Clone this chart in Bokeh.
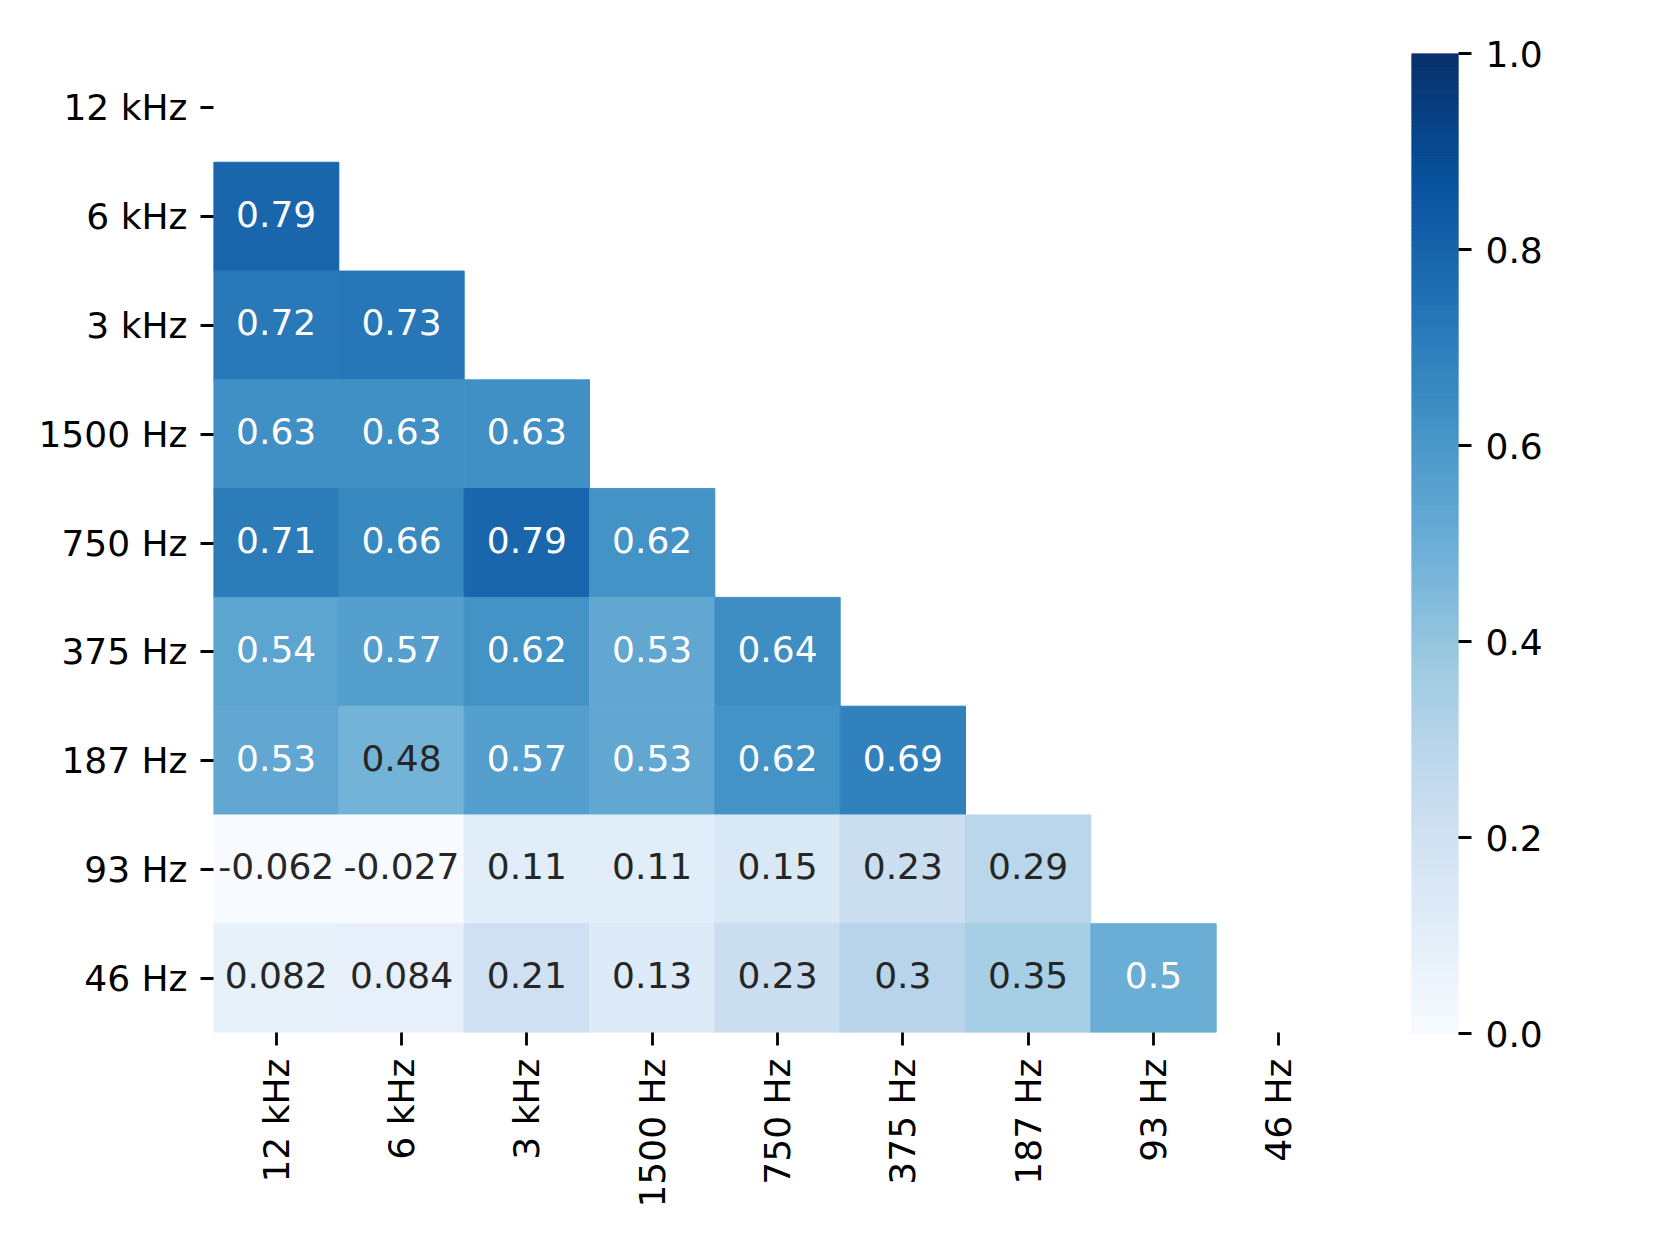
import math
import numpy as np
from bokeh.plotting import figure
from bokeh.layouts import row
from bokeh.models import FactorRange, Range1d, ColumnDataSource, FixedTicker, PrintfTickFormatter
from bokeh.core.properties import value
from bokeh.embed import file_html
from bokeh.resources import INLINE

# ---- data ----
bands = ["12 kHz", "6 kHz", "3 kHz", "1500 Hz", "750 Hz", "375 Hz", "187 Hz", "93 Hz", "46 Hz"]
row_6k = [0.79]
row_3k = [0.72, 0.73]
row_1500 = [0.63, 0.63, 0.63]
row_750 = [0.71, 0.66, 0.79, 0.62]
row_375 = [0.54, 0.57, 0.62, 0.53, 0.64]
row_187 = [0.53, 0.48, 0.57, 0.53, 0.62, 0.69]
row_93 = [-0.062, -0.027, 0.11, 0.11, 0.15, 0.23, 0.29]
row_46 = [0.082, 0.084, 0.21, 0.13, 0.23, 0.3, 0.35, 0.5]
lower_rows = [[], row_6k, row_3k, row_1500, row_750, row_375, row_187, row_93, row_46]
cbar_ticks = [0.0, 0.2, 0.4, 0.6, 0.8, 1.0]
vmin, vmax = 0.0, 1.0

# ColorBrewer Blues (light -> dark), matplotlib 'Blues' is a linear ramp through these
blues9 = ["#f7fbff", "#deebf7", "#c6dbef", "#9ecae1", "#6baed6", "#4292c6", "#2171b5", "#08519c", "#08306b"]

def hex2rgb(h):
    return np.array([int(h[i:i + 2], 16) for i in (1, 3, 5)], dtype=float)

anchors = np.array([hex2rgb(h) for h in blues9])
pos = np.linspace(0, 1, len(blues9))
t = np.linspace(0, 1, 256)
ramp = np.stack([np.interp(t, pos, anchors[:, k]) for k in range(3)], axis=1)
palette = ["#%02x%02x%02x" % tuple(int(round(c)) for c in rgb) for rgb in ramp]

def cmap(v):
    f = (v - vmin) / (vmax - vmin)
    i = int(np.clip(math.floor(f * 256), 0, 255))
    return i

def luminance(rgb):
    c = np.asarray(rgb) / 255.0
    c = np.where(c <= 0.03928, c / 12.92, ((c + 0.055) / 1.055) ** 2.4)
    return float(c.dot([0.2126, 0.7152, 0.0722]))

xs, ys, vals, fills, labels, tcolors = [], [], [], [], [], []
for i, r in enumerate(lower_rows):
    for j, v in enumerate(r):
        idx = cmap(v)
        xs.append(bands[j])
        ys.append(bands[i])
        vals.append(v)
        fills.append(palette[idx])
        labels.append("{:.2g}".format(v))
        tcolors.append("#262626" if luminance(ramp[idx]) > 0.408 else "#ffffff")

src = ColumnDataSource(dict(x=xs, y=ys, v=vals, fill=fills, label=labels, tc=tcolors))

FONT = "DejaVu Sans"
FS = "36px"

p = figure(x_range=FactorRange(factors=bands), y_range=FactorRange(factors=bands[::-1]),
           frame_width=1128, frame_height=979,
           min_border_left=213, min_border_top=53, min_border_bottom=188, min_border_right=8,
           output_backend="svg", toolbar_location=None, tools="")
p.rect(x="x", y="y", width=1, height=1, source=src, fill_color="fill", line_color="fill", line_width=1)
p.text(x="x", y="y", text="label", source=src, text_color="tc", text_align="center",
       text_baseline="middle", y_offset=-3, text_font=value(FONT), text_font_size=FS)
p.grid.visible = False
p.outline_line_color = None
for ax in (p.xaxis[0], p.yaxis[0]):
    ax.axis_line_color = None
    ax.major_tick_in = 0
    ax.major_tick_out = 13
    ax.major_tick_line_width = 2.8
    ax.major_tick_line_color = "black"
    ax.minor_tick_line_color = None
    ax.major_label_standoff = 13
    ax.major_label_text_font = FONT
    ax.major_label_text_font_size = FS
    ax.major_label_text_color = "black"
p.xaxis.major_label_orientation = math.pi / 2

# colour bar as its own panel
cb_lo = [vmin + (vmax - vmin) * k / 256 for k in range(256)]
cb_hi = [vmin + (vmax - vmin) * (k + 1) / 256 for k in range(256)]
cb = figure(x_range=Range1d(0, 1), y_range=Range1d(vmin, vmax),
            frame_width=47, frame_height=980,
            min_border_left=62, min_border_top=52, min_border_bottom=188, min_border_right=150,
            x_axis_location=None, y_axis_location="right",
            output_backend="svg", toolbar_location=None, tools="")
cb.quad(left=0, right=1, bottom=cb_lo, top=cb_hi, fill_color=palette, line_color=palette, line_width=1)
cb.grid.visible = False
cb.outline_line_color = None
ay = cb.yaxis[0]
ay.ticker = FixedTicker(ticks=cbar_ticks)
ay.formatter = PrintfTickFormatter(format="%.1f")
ay.axis_line_color = None
ay.major_tick_in = 0
ay.major_tick_out = 13
ay.major_tick_line_width = 2.8
ay.major_tick_line_color = "black"
ay.minor_tick_line_color = None
ay.major_label_standoff = 14
ay.major_label_text_font = FONT
ay.major_label_text_font_size = FS
ay.major_label_text_color = "black"

layout = row(p, cb)
open("out.html", "w").write(file_html(layout, INLINE))
